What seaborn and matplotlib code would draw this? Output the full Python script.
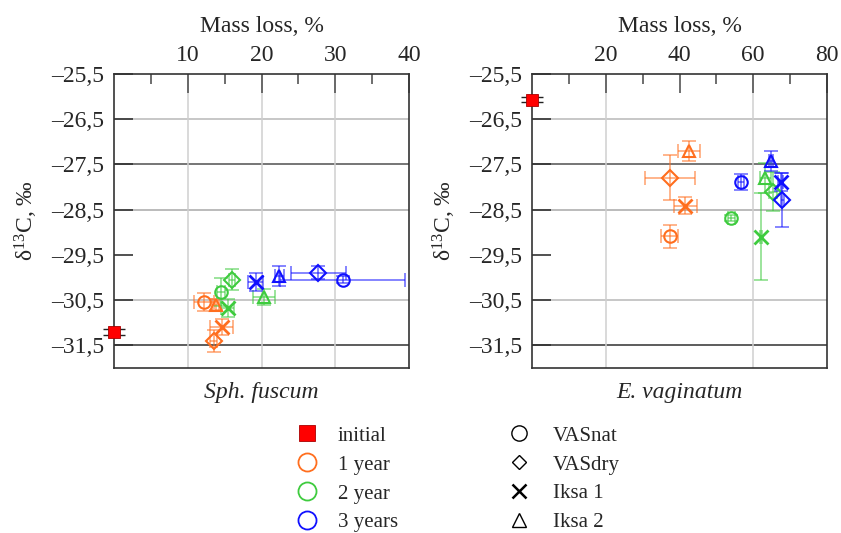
import matplotlib
matplotlib.use('Agg')
import matplotlib.pyplot as plt
from matplotlib.lines import Line2D
import seaborn as sns

# ---- data ----
years = ['1 year', '2 year', '3 years']
variants = ['VASnat', 'VASdry', 'Iksa 1', 'Iksa 2']

# Sph. fuscum: rows = years, cols = variants
fus_x = [[12.2, 13.5, 14.6, 13.8],
         [14.5, 16.0, 15.4, 20.3],
         [31.0, 27.7, 19.2, 22.4]]
fus_y = [[-30.54, -31.41, -31.10, -30.60],
         [-30.31, -30.05, -30.67, -30.43],
         [-30.05, -29.89, -30.10, -29.96]]
fus_xerr = [[1.3, 0.5, 1.6, 0.5],
            [0.5, 0.4, 0.9, 1.5],
            [8.5, 3.7, 1.0, 0.6]]
fus_yerr = [[0.20, 0.24, 0.18, 0.12],
            [0.31, 0.23, 0.20, 0.17],
            [0.08, 0.14, 0.20, 0.22]]
fus_init = (0.0, -31.20, 0.06)

# E. vaginatum
vag_x = [[37.3, 37.5, 41.6, 42.6],
         [54.1, 65.4, 62.2, 63.3],
         [56.6, 67.9, 67.4, 64.9]]
vag_y = [[-29.09, -27.79, -28.41, -27.21],
         [-28.68, -28.10, -29.10, -27.80],
         [-27.89, -28.28, -27.89, -27.42]]
vag_xerr = [[2.2, 6.8, 3.2, 2.9],
            [1.0, 1.0, 0.3, 1.6],
            [0.8, 0.5, 0.8, 0.5]]
vag_yerr = [[0.25, 0.49, 0.18, 0.22],
            [0.06, 0.43, 0.96, 0.33],
            [0.17, 0.60, 0.20, 0.22]]
vag_init = (0.0, -26.07, 0.06)

y_ticks = [-31.5, -30.5, -29.5, -28.5, -27.5, -26.5, -25.5]
y_labels = ['\u201331,5', '\u201330,5', '\u201329,5', '\u201328,5',
            '\u201327,5', '\u201326,5', '\u201325,5']

# ---- style ----
sns.set_theme(style='white')
plt.rcParams['font.family'] = ['Liberation Serif', 'DejaVu Serif']
plt.rcParams['mathtext.fontset'] = 'custom'
plt.rcParams['mathtext.rm'] = 'Liberation Serif'
plt.rcParams['mathtext.it'] = 'Liberation Serif:italic'

year_colors = ['#ff6e1e', '#3ecb3e', '#1010ff']
markers = ['o', 'D', 'x', '^']
msizes = [9, 8, 9.5, 8.5]


def draw_panel(ax, xs, ys, xerrs, yerrs, init, xmax, major, minor, name):
    # grid lines
    for yv, c in [(-26.5, '#b8b8b8'), (-27.5, '#505050'), (-28.5, '#a8a8a8'),
                  (-30.5, '#b8b8b8'), (-31.5, '#303030')]:
        ax.axhline(yv, color=c, lw=1.1, zorder=0)
    for xv in major[:-1]:
        if name.startswith('E') and xv == 40:
            continue
        ax.axvline(xv, color='#cfcfcf', lw=1.1, zorder=0)

    for i in range(len(years)):
        for j in range(len(variants)):
            col = year_colors[i]
            ax.errorbar(xs[i][j], ys[i][j], xerr=xerrs[i][j], yerr=yerrs[i][j],
                        fmt='none', ecolor=col, elinewidth=1.2, capsize=5,
                        capthick=1.2, alpha=0.6, zorder=2)
            ax.plot(xs[i][j], ys[i][j], marker=markers[j], ms=msizes[j],
                    mfc='none', mec=col, mew=2.0 if markers[j] == 'x' else 1.5,
                    ls='none', zorder=3)

    ax.errorbar(init[0], init[1], yerr=init[2], fmt='none', ecolor='#222222',
                elinewidth=1, capsize=8, capthick=1, zorder=3, clip_on=False)
    ax.plot(init[0], init[1], marker='s', ms=8.5, mfc='#ff0000', mec='#aa0000',
            mew=0.6, ls='none', zorder=4, clip_on=False)

    ax.set_xlim(0, xmax)
    ax.set_ylim(-32.0, -25.5)
    ax.xaxis.tick_top()
    ax.xaxis.set_label_position('top')
    ax.set_xticks(major)
    ax.set_xticks(minor, minor=True)
    ax.set_xticklabels([str(v) for v in major])
    ax.set_yticks(y_ticks)
    ax.set_yticklabels(y_labels)
    ax.tick_params(axis='x', which='major', direction='in', length=14,
                   width=1.2, color='#555555', labelsize=17, pad=6,
                   top=True, bottom=False)
    ax.tick_params(axis='x', which='minor', direction='in', length=7,
                   width=1.2, color='#555555', top=True, bottom=False)
    ax.tick_params(axis='y', direction='in', length=14, width=1.2,
                   color='#333333', labelsize=17, pad=7, left=True)
    ax.set_xlabel('Mass loss, %', fontsize=17, labelpad=9)
    ax.set_ylabel('\u03b4$^{13}$C, \u2030', fontsize=17, labelpad=8)
    for sp in ax.spines.values():
        sp.set_color('#333333')
        sp.set_linewidth(1.2)
    ax.text(0.5, -0.085, name, transform=ax.transAxes, ha='center',
            va='center', fontsize=17, style='italic')


fig = plt.figure(figsize=(8.41, 5.33), dpi=100)
ax1 = fig.add_axes([114 / 841, 1 - 368 / 533, 295 / 841, 294 / 533])
ax2 = fig.add_axes([532 / 841, 1 - 368 / 533, 295 / 841, 294 / 533])

draw_panel(ax1, fus_x, fus_y, fus_xerr, fus_yerr, fus_init, 40,
           [10, 20, 30, 40], [5, 15, 25, 35], 'Sph. fuscum')
draw_panel(ax2, vag_x, vag_y, vag_xerr, vag_yerr, vag_init, 80,
           [20, 40, 60, 80], [10, 30, 50, 70], 'E. vaginatum')

# ---- legends ----
h1 = [Line2D([], [], marker='s', ms=11, mfc='#ff0000', mec='#aa0000',
             mew=0.6, ls='none')]
h1 += [Line2D([], [], marker='o', ms=13, mfc='none', mec=c, mew=1.3,
              ls='none') for c in year_colors]
l1 = ['initial'] + years
h2 = [Line2D([], [], marker=m, ms=s, mfc='none', mec='black',
             mew=1.8 if m == 'x' else 1.0, ls='none')
      for m, s in zip(markers, [11, 7, 10, 10])]

leg_top = 1 - 426 / 533
leg1 = fig.legend(h1, l1, loc='upper left', bbox_to_anchor=(297 / 841, leg_top),
                  frameon=False, fontsize=15, handlelength=1,
                  handletextpad=0.95, labelspacing=0.45, borderpad=0,
                  borderaxespad=0)
leg2 = fig.legend(h2, variants, loc='upper left',
                  bbox_to_anchor=(509 / 841, leg_top), frameon=False,
                  fontsize=15, handlelength=1, handletextpad=1.1,
                  labelspacing=0.45, borderpad=0, borderaxespad=0)

fig.savefig('out.png', dpi=100)
plt.close(fig)
